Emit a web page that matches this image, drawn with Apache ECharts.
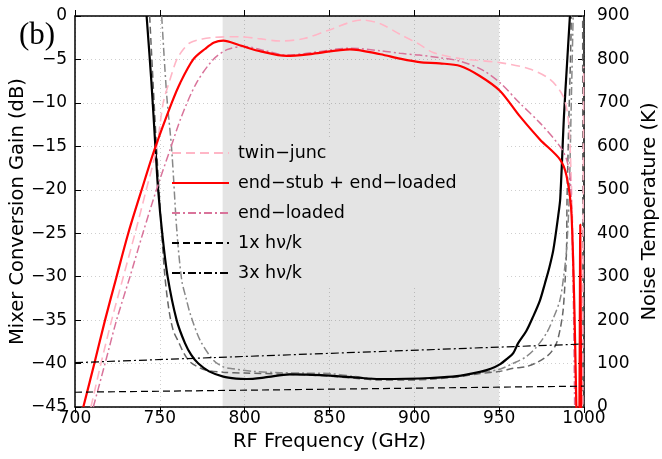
<!DOCTYPE html>
<html><head><meta charset="utf-8">
<script src="https://cdn.jsdelivr.net/npm/echarts@6/dist/echarts.min.js"></script>
<style>html,body{margin:0;padding:0;background:#fff}#c{width:662px;height:459px}</style>
</head><body><div id="c"></div>
<script>
// Gain curves [GHz, dB]
const gainTwinJunc = [[709.4,-45],[715.3,-40],[721.6,-35],[728.5,-30],[735.4,-25],[742,-20],[748,-15.3],[752,-10],[756,-7.3],[760,-5],[764,-3.8],[767.8,-3.07],[775,-2.65],[782.5,-2.45],[797,-2.38],[808,-2.6],[820.8,-2.88],[835,-2.6],[850,-1.6],[869,-0.46],[880,-0.9],[891.5,-2.1],[903,-3.26],[911,-4.2],[927,-4.9],[950.4,-5.37],[968,-6.1],[980,-7.3],[987.6,-9.2],[990.5,-11.5],[992,-16],[994,-30],[995,-45],[995.5,-60],[998.8,-60],[999.4,-30],[999.8,-5.8]];
const gainEndStub = [[704.9,-45],[711.4,-40],[717.7,-35],[724.5,-30],[731.4,-25],[739.3,-20],[747,-15.3],[757,-10],[762,-7.7],[769.7,-5],[776.6,-3.8],[782,-3.05],[787.4,-2.84],[797,-3.37],[810,-4.1],[824.7,-4.6],[840,-4.35],[862,-3.83],[880,-4.4],[891.5,-4.9],[903,-5.3],[915,-5.45],[927,-5.75],[938.6,-6.9],[950.4,-8.6],[962,-11.5],[974,-14.2],[985.8,-16.5],[989.7,-18.4],[992.7,-23],[995.5,-45],[996.3,-60],[997.3,-45],[997.8,-24],[998.6,-60]];
const gainEndLoaded = [[710.8,-45],[717.7,-40],[724.5,-35],[732.4,-30],[740,-25],[748,-20],[756,-15.4],[762.9,-11.5],[771.7,-7.67],[781.5,-5],[790,-3.84],[800,-3.5],[812,-4.0],[825,-4.5],[840,-4.2],[862,-3.7],[880,-4.0],[891.5,-4.3],[903,-4.5],[915,-4.8],[927,-5.2],[940,-6.2],[950.4,-7.67],[962,-10],[974,-12.3],[985.8,-15],[989.7,-16.5],[992,-19],[993.5,-30],[994.5,-45],[995,-60]];
// Noise temperature curves [GHz, K]
const noiseEndStub = [[742.2,900],[745,750],[747.5,592],[749,500],[751.4,400],[754.6,300],[759.9,200],[764.8,147],[768.5,120],[772.7,100],[779,82],[787.4,70],[795,65.5],[801.2,64.5],[812,68],[826.7,75],[840,74],[850.3,72],[865,68],[879.7,64.5],[895,65],[909.2,66.8],[925,71],[938.7,81],[945,88],[950.4,98],[955,112],[958.3,124],[961.2,147],[966,175],[970,208],[974,245],[977,285],[979.5,320],[981.9,361],[984.8,440],[986,480],[988.2,670],[990,790],[991.7,900]];
const noiseEndLoaded = [[751.1,900],[754,720],[757,592],[760,407],[762.9,292],[765.5,250],[767.8,216],[773.7,154],[781.5,108],[787,93],[793,88],[805,82],[820.8,79],[835,78],[850,77],[865,70],[880,64],[895,64],[909,66],[925,71],[938.7,79],[950.4,87],[958,100],[966,116],[972,138],[977.9,170],[982,205],[985.8,246],[988,300],[989.7,361],[991.2,476],[992.5,700],[993.6,900]];
const noiseTwinJunc = [[744,900],[748,600],[751,407],[753,300],[755.5,220],[758,175],[761,150],[764,125],[767.5,105],[772,93],[777,85],[787.4,80],[800,78],[820.8,76],[835,74],[850,71],[865,66],[880,62],[895,62],[909,64],[925,69],[938.7,77],[950.4,82],[958.3,89],[966,93],[972,102],[977.9,116],[981,128],[983.8,147],[986,180],[987.7,223],[989,300],[989.7,361],[990,476],[991,650],[992.5,900],[993,1500],[998.9,1500],[999.3,-50]];
const hv1 = [[700,34],[1000,48]];
const hv3 = [[700,102],[1000,145]];
const band = [787, 950];
const xTicks = {min:700, max:1000, interval:50};
const gainTicks = {min:-45, max:0, interval:5};
const noiseTicks = {min:0, max:900, interval:100};

const font = 'DejaVu Sans, sans-serif';
const chart = echarts.init(document.getElementById('c'), null, {renderer:'canvas'});
const axisLine = {show:true, lineStyle:{color:'#000', width:1.5}};
const tick = {show:true, inside:true, length:6, lineStyle:{color:'#000', width:1}};
const split = {show:true, lineStyle:{color:'#cfcfcf', type:[1,3], width:1}};
function line(name, data, color, width, type, yIdx, extra){
  return Object.assign({type:'line', name, data, yAxisIndex:yIdx, xAxisIndex:0, symbol:'none', showSymbol:false,
    smooth:0.3, clip:true, z:2, animation:false,
    lineStyle:{color, width, type}, itemStyle:{color}}, extra||{});
}
const dashDot = [8,3,2,3];
chart.setOption({
  animation:false,
  title:{text:'(b)', left:14, top:15, textStyle:{fontFamily:'Liberation Serif, Times New Roman, serif', fontSize:31, fontWeight:'normal', color:'#000'}},
  grid:{left:75, right:78, top:16, bottom:52, containLabel:false, outerBoundsMode:'none'},
  graphic:[{type:'rect', z:1, shape:{x:165, y:137, width:341, height:150}, style:{fill:'#fff'}}],
  legend:{orient:'vertical', left:166, top:138, itemWidth:57, itemHeight:14, itemGap:10, z:4,
    itemStyle:{color:'rgba(0,0,0,0)', borderColor:'rgba(0,0,0,0)', borderWidth:0},
    data:['twin\u2212junc','end\u2212stub + end\u2212loaded','end\u2212loaded','1x h\u03bd/k','3x h\u03bd/k'],
    textStyle:{fontFamily:font, fontSize:17.5, color:'#000', lineHeight:20, padding:[0,0,0,4]}},
  xAxis:[
    {type:'value', position:'bottom', min:xTicks.min, max:xTicks.max, interval:xTicks.interval,
     axisLine, axisTick:tick, splitLine:split,
     axisLabel:{fontFamily:font, fontSize:17, color:'#000', margin:3, formatter:v=>String(v)},
     name:'RF Frequency (GHz)', nameLocation:'middle', nameGap:23,
     nameTextStyle:{fontFamily:font, fontSize:19.5, color:'#000'}},
    {type:'value', position:'top', min:xTicks.min, max:xTicks.max, interval:xTicks.interval,
     axisLine, axisTick:tick, axisLabel:{show:false}, splitLine:{show:false}}
  ],
  yAxis:[
    {type:'value', position:'left', min:gainTicks.min, max:gainTicks.max, interval:gainTicks.interval,
     axisLine, axisTick:tick, splitLine:split,
     axisLabel:{fontFamily:font, fontSize:17, color:'#000', margin:8, formatter:v=>String(v).replace('-','\u2212')},
     name:'Mixer Conversion Gain (dB)', nameLocation:'middle', nameGap:47, nameMoveOverlap:false,
     nameTextStyle:{fontFamily:font, fontSize:19.5, color:'#000'}},
    {type:'value', position:'right', min:noiseTicks.min, max:noiseTicks.max, interval:noiseTicks.interval,
     axisLine, axisTick:tick, splitLine:{show:false},
     axisLabel:{fontFamily:font, fontSize:17, color:'#000', margin:13, formatter:v=>String(v)},
     name:'Noise Temperature (K)', nameLocation:'middle', nameGap:56, nameRotate:90, nameMoveOverlap:false,
     nameTextStyle:{fontFamily:font, fontSize:19.5, color:'#000'}}
  ],
  series:[
    line('band', [], '#000', 0, 'solid', 0, {markArea:{z:2, silent:true, itemStyle:{color:'rgba(0,0,0,0.105)'}, data:[[{xAxis:band[0]},{xAxis:band[1]}]]}}),
    line('twin\u2212junc noise', noiseTwinJunc, '#666666', 1.5, [7,4], 1),
    line('end\u2212loaded noise', noiseEndLoaded, '#888888', 1.5, dashDot, 1),
    line('end\u2212stub noise', noiseEndStub, '#000000', 2.2, 'solid', 1),
    line('twin\u2212junc', gainTwinJunc, '#ffb6c6', 1.6, [9,5], 0),
    line('end\u2212loaded', gainEndLoaded, '#d9739a', 1.5, dashDot, 0),
    line('end\u2212stub + end\u2212loaded', gainEndStub, '#ff0000', 2.2, 'solid', 0),
    line('1x h\u03bd/k', hv1, '#000000', 1.2, [7,4], 1, {smooth:false}),
    line('3x h\u03bd/k', hv3, '#000000', 1.2, dashDot, 1, {smooth:false})
  ]
});
</script></body></html>
